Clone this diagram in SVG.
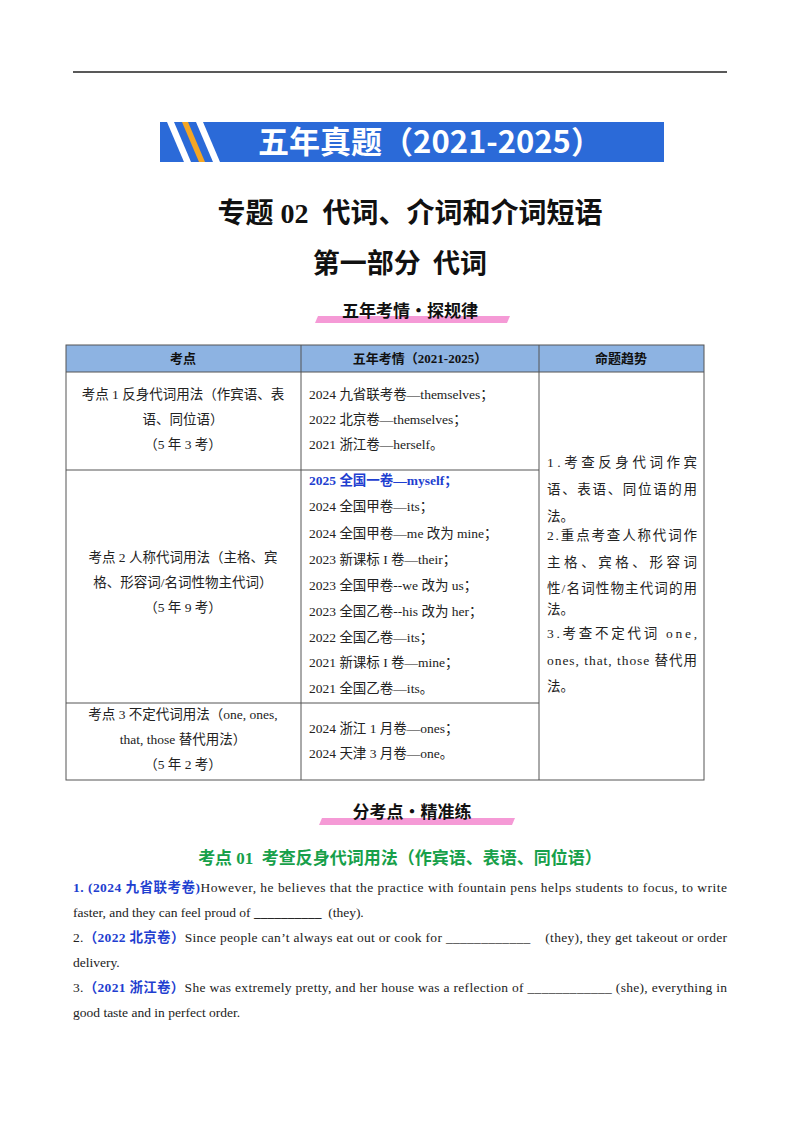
<svg xmlns="http://www.w3.org/2000/svg" width="800" height="1132" viewBox="0 0 800 1132">
<style>
text{white-space:pre}
.s{font-family:"Liberation Serif","Noto Sans CJK SC",serif;font-size:13.5px;fill:#222}
.h{font-family:"Noto Sans CJK SC",sans-serif;font-weight:bold;fill:#111}
.b{font-family:"Liberation Serif","Noto Sans CJK SC",serif;font-weight:bold;fill:#111}
.bl{fill:#1f3fd0;font-weight:bold}
.c{text-anchor:middle}
.g{stroke:#555;stroke-width:1;fill:none}
</style>
<rect width="800" height="1132" fill="#fff"/>
<line x1="73" y1="72" x2="727" y2="72" stroke="#222" stroke-width="1.5"/>
<g id="banner">
<rect x="160" y="122" width="504" height="40" fill="#2b6ad8"/>
<polygon points="167,122 174,122 191,162 184,162" fill="#fff"/>
<polygon points="182,122 188,122 205,162 199,162" fill="#f5a623"/>
<polygon points="196,122 203,122 220,162 213,162" fill="#fff"/>
<text x="430" y="153" class="h c" font-size="31" style="fill:#fff">五年真题（2021-2025）</text>
</g>
<text x="410" y="223" class="b c" font-size="28">专题 02  代词、介词和介词短语</text>
<text x="400" y="273" class="h c" font-size="27">第一部分  代词</text>
<g id="label1">
<polygon points="318,316 510,316 507,323 315,323" fill="#f59ad6"/>
<text x="410" y="317" class="h c" font-size="17">五年考情·探规律</text>
</g>
<g id="table">
<rect x="66" y="345" width="638" height="27" fill="#8db3e2"/>
<rect x="66" y="345" width="638" height="435" class="g"/>
<line x1="66" y1="372" x2="704" y2="372" class="g"/>
<line x1="66" y1="470" x2="539" y2="470" class="g"/>
<line x1="66" y1="703" x2="539" y2="703" class="g"/>
<line x1="301" y1="345" x2="301" y2="780" class="g"/>
<line x1="539" y1="345" x2="539" y2="780" class="g"/>
<text x="183" y="363" class="h c" font-size="13">考点</text>
<text x="420" y="363" class="b c" font-size="13">五年考情（2021-2025）</text>
<text x="621" y="363" class="h c" font-size="13">命题趋势</text>
<g class="s c">
<text x="183" y="399">考点 1 反身代词用法（作宾语、表</text>
<text x="183" y="424">语、同位语）</text>
<text x="183" y="449">（5 年 3 考）</text>
<text x="183" y="562">考点 2 人称代词用法（主格、宾</text>
<text x="183" y="587">格、形容词/名词性物主代词）</text>
<text x="183" y="612">（5 年 9 考）</text>
<text x="183" y="719">考点 3 不定代词用法（one, ones,</text>
<text x="183" y="744">that, those 替代用法）</text>
<text x="183" y="769">（5 年 2 考）</text>
</g>
<g class="s">
<text x="309" y="399">2024 九省联考卷—themselves；</text>
<text x="309" y="424">2022 北京卷—themselves；</text>
<text x="309" y="449">2021 浙江卷—herself。</text>
<text x="309" y="485" class="bl" style="fill:#1f3fd0">2025 全国一卷—myself；</text>
<text x="309" y="511">2024 全国甲卷—its；</text>
<text x="309" y="538">2024 全国甲卷—me 改为 mine；</text>
<text x="309" y="564">2023 新课标 I 卷—their；</text>
<text x="309" y="590">2023 全国甲卷--we 改为 us；</text>
<text x="309" y="616">2023 全国乙卷--his 改为 her；</text>
<text x="309" y="642">2022 全国乙卷—its；</text>
<text x="309" y="667">2021 新课标 I 卷—mine；</text>
<text x="309" y="693">2021 全国乙卷—its。</text>
<text x="309" y="733">2024 浙江 1 月卷—ones；</text>
<text x="309" y="758">2024 天津 3 月卷—one。</text>
<text x="547" y="467" textLength="150">1.考查反身代词作宾</text>
<text x="547" y="494" textLength="150">语、表语、同位语的用</text>
<text x="547" y="521">法。</text>
<text x="547" y="540" textLength="150">2.重点考查人称代词作</text>
<text x="547" y="567" textLength="150">主格、宾格、形容词</text>
<text x="547" y="593" textLength="150">性/名词性物主代词的用</text>
<text x="547" y="614">法。</text>
<text x="547" y="638" textLength="150">3.考查不定代词 one,</text>
<text x="547" y="665" textLength="150">ones, that, those 替代用</text>
<text x="547" y="691">法。</text>
</g>
</g>
<g id="label2">
<polygon points="322,818 515,818 512,825 319,825" fill="#f59ad6"/>
<text x="412" y="818" class="h c" font-size="17">分考点·精准练</text>
</g>
<text x="400" y="864" class="b c" font-size="17" style="fill:#17a04a">考点 01  考查反身代词用法（作宾语、表语、同位语）</text>
<g class="s">
<text x="73" y="892" textLength="654"><tspan class="bl" style="fill:#1f3fd0">1. (2024 九省联考卷)</tspan>However, he believes that the practice with fountain pens helps students to focus, to write</text>
<text x="73" y="917">faster, and they can feel proud of <tspan font-weight="bold">__________</tspan>  (they).</text>
<text x="73" y="942" textLength="654">2.<tspan class="bl" style="fill:#1f3fd0">（2022 北京卷）</tspan>Since people can’t always eat out or cook for ____________    (they), they get takeout or order</text>
<text x="73" y="967">delivery.</text>
<text x="73" y="992" textLength="654">3.<tspan class="bl" style="fill:#1f3fd0">（2021 浙江卷）</tspan>She was extremely pretty, and her house was a reflection of ____________ (she), everything in</text>
<text x="73" y="1017">good taste and in perfect order.</text>
</g>
</svg>
